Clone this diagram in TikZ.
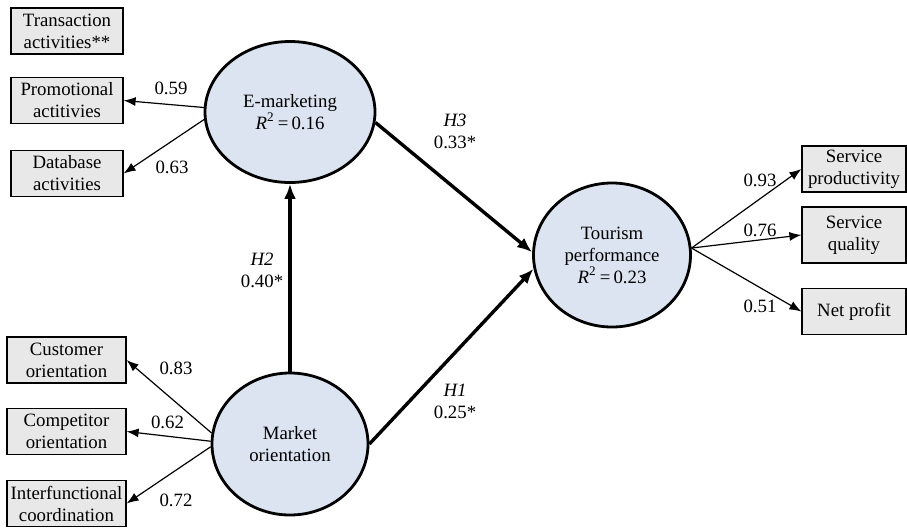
\documentclass[tikz,border=0pt]{standalone}
\usepackage{fontspec}
\setmainfont{Liberation Serif}
\usepackage{xcolor}
\usepackage{tikz}
\usetikzlibrary{arrows.meta,positioning,shapes.geometric}

\definecolor{latentfill}{RGB}{219,228,240}
\definecolor{itemfill}{RGB}{232,232,232}

\begin{document}
\begin{tikzpicture}[
        x=0.5pt, y=-0.5pt,
        font=\fontsize{9.4}{11}\selectfont,
        latent/.style={ellipse, draw, line width=1.4pt, fill=latentfill, align=center, inner sep=0pt},
        item/.style={rectangle, draw, line width=0.6pt, fill=itemfill, align=center, inner sep=1pt, minimum height=23pt},
        load/.style={-{Latex[length=6pt,width=4.5pt]}, line width=0.6pt},
        path/.style={-{Latex[length=7.5pt,width=6pt]}, line width=1.7pt},
        num/.style={inner sep=1pt}
    ]
        \useasboundingbox (0,0) rectangle (907,527);

        % latent variables
        \node[latent, minimum width=85pt, minimum height=70.5pt] (emk) at (290,112) {E-marketing\\\textit{R}\textsuperscript{2}\,=\,0.16};
        \node[latent, minimum width=78pt, minimum height=71pt] (mor) at (290,444) {Market\\orientation};
        \node[latent, minimum width=78.5pt, minimum height=72pt] (tpf) at (612,255) {Tourism\\performance\\\textit{R}\textsuperscript{2}\,=\,0.23};

        % indicators
        \node[item, minimum width=56pt] (trans) at (67,31) {Transaction\\activities**};
        \node[item, minimum width=56pt] (promo) at (67,100.5) {Promotional\\actitivies};
        \node[item, minimum width=56pt] (dbase) at (67,173.5) {Database\\activities};
        \node[item, minimum width=59.5pt] (cust) at (66.5,360) {Customer\\orientation};
        \node[item, minimum width=59.5pt] (comp) at (66.5,431.5) {Competitor\\orientation};
        \node[item, minimum width=59.5pt] (inter) at (66.5,503.5) {Interfunctional\\coordination};
        \node[item, minimum width=52pt] (prod) at (854,169) {Service\\productivity};
        \node[item, minimum width=52pt, minimum height=28pt] (qual) at (854,235) {Service\\quality};
        \node[item, minimum width=52pt] (profit) at (854,311.5) {Net profit};

        % loadings
        \draw[load] (emk.177) -- (promo.east);
        \draw[load] (emk.185) -- (dbase.east);
        \draw[load] (mor.172) -- (cust.east);
        \draw[load] (mor.178) -- (comp.east);
        \draw[load] (mor.182) -- (inter.east);
        \draw[load] (tpf.5) -- (prod.west);
        \draw[load] (tpf.5) -- (qual.west);
        \draw[load] (tpf.5) -- (profit.west);

        \node[num] (l59) at (171,88) {0.59};
        \node[num] (l63) at (172,167) {0.63};
        \node[num] (l83) at (176,368) {0.83};
        \node[num] (l62) at (167.5,422.5) {0.62};
        \node[num] (l72) at (176,500) {0.72};
        \node[num] (l93) at (760,180) {0.93};
        \node[num] (l76) at (760,230) {0.76};
        \node[num] (l51) at (760,306) {0.51};

        % structural paths
        \draw[path] (mor.north) -- (emk.south);
        \draw[path] (emk.-7) -- (tpf.178);
        \draw[path] (mor.east) -- (tpf.190);

        \node[num, align=center] (h2) at (262,270) {\textit{H2}\\0.40*};
        \node[num, align=center] (h3) at (455,131) {\textit{H3}\\0.33*};
        \node[num, align=center] (h1) at (455,401) {\textit{H1}\\0.25*};
    \end{tikzpicture}
\end{document}
